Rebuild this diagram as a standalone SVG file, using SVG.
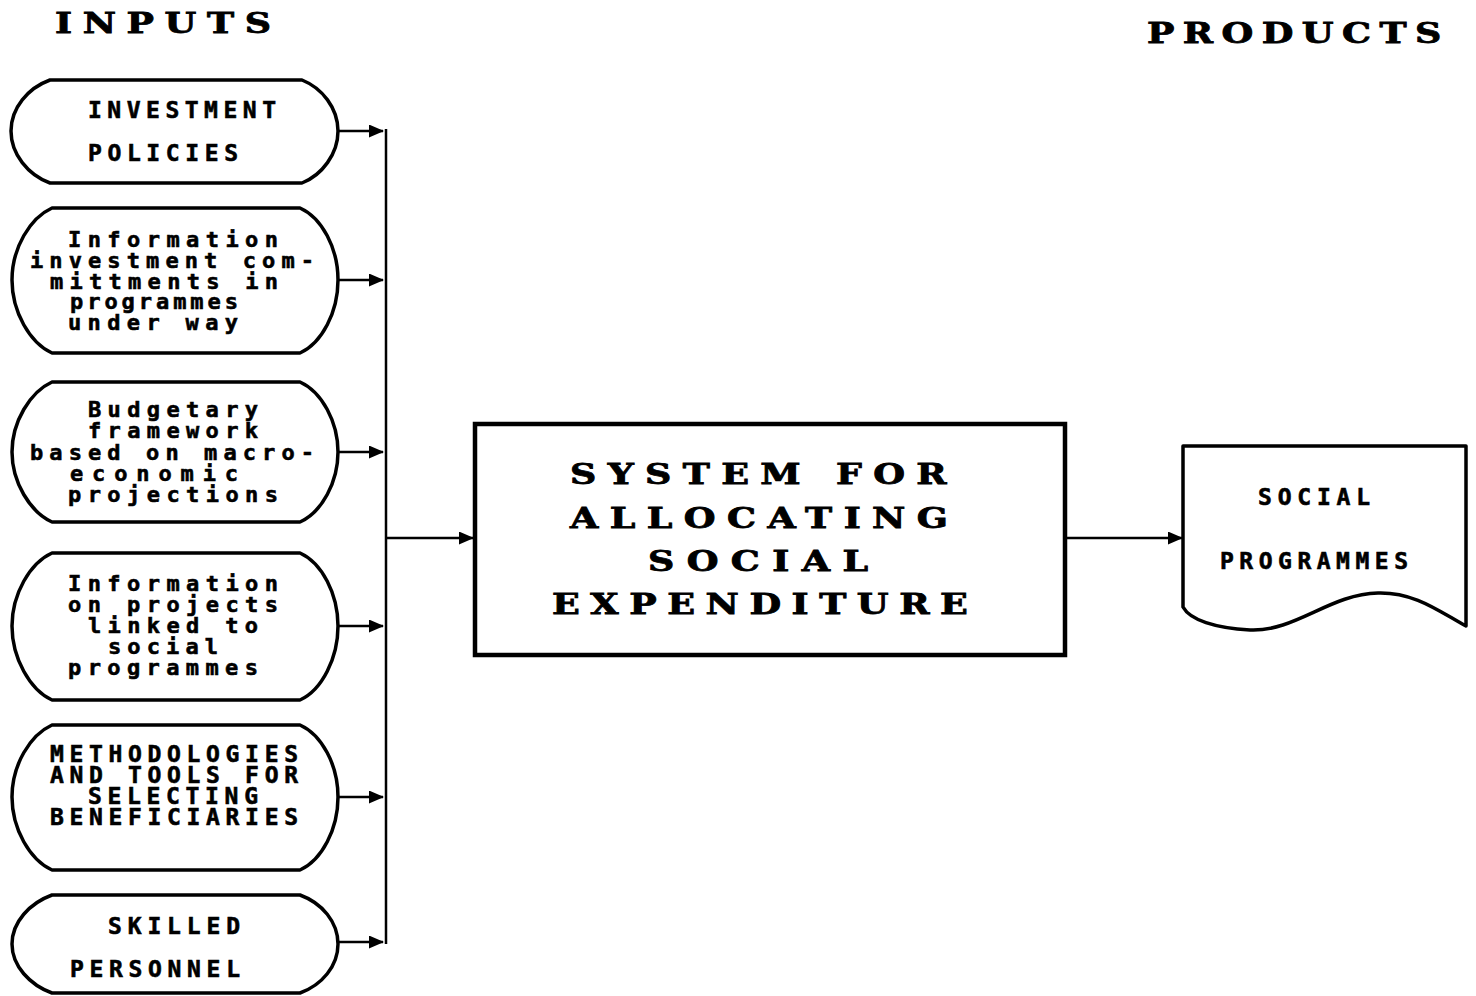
<svg xmlns="http://www.w3.org/2000/svg" width="1476" height="996" viewBox="0 0 1476 996">
  <style>
    .shape { fill: #fff; stroke: #000; stroke-width: 3.5; stroke-linejoin: round; }
    .box { fill: #fff; stroke: #000; stroke-width: 4.5; }
    .wire { fill: none; stroke: #000; stroke-width: 2.5; }
    .head { font-family: "DejaVu Serif", "Liberation Serif", serif; font-weight: bold; font-size: 27px; fill: #000; stroke: #000; stroke-width: 0.8; }
    .t { font-family: "DejaVu Sans Mono", "Liberation Mono", monospace; font-weight: bold; font-size: 22px; fill: #000; stroke: #000; stroke-width: 0.6; }
    .u { font-family: "DejaVu Sans Mono", "Liberation Mono", monospace; font-weight: bold; font-size: 23px; fill: #000; stroke: #000; stroke-width: 0.6; }
  </style>
  <defs>
    <marker id="arrow" viewBox="0 0 15 13" refX="14" refY="6.5" markerWidth="15" markerHeight="13" markerUnits="userSpaceOnUse" orient="auto">
      <path d="M0,0 L15,6.5 L0,13 Z" fill="#000"/>
    </marker>
  </defs>
  <rect width="1476" height="996" fill="#fff"/>

  <!-- column headings (wide display lettering) -->
  <text class="head" x="0" y="0" transform="translate(55,33) scale(1.35,1)" textLength="160" lengthAdjust="spacing">INPUTS</text>
  <text class="head" x="0" y="0" transform="translate(1147,43) scale(1.35,1)" textLength="218" lengthAdjust="spacing">PRODUCTS</text>

  <!-- input nodes -->
  <g id="n-investment-policies">
    <path class="shape" d="M50,80 H302 C322,88 338,108 338,131 C338,154 322,175 302,183 H50 C28,175 11,154 11,131 C11,108 28,88 50,80 Z"/>
    <text class="u" x="88" y="118" textLength="188" lengthAdjust="spacing">INVESTMENT</text>
    <text class="u" x="88" y="161" textLength="150" lengthAdjust="spacing">POLICIES</text>
  </g>

  <g id="n-commitments">
    <path class="shape" d="M52,208 H300 C322,218 338,248 338,280 C338,312 322,343 300,353 H52 C30,343 12,312 12,280 C12,248 30,218 52,208 Z"/>
    <text class="t" x="68" y="247" textLength="210" lengthAdjust="spacing">Information</text>
    <text class="t" x="30" y="268" textLength="284" lengthAdjust="spacing">investment com-</text>
    <text class="t" x="50" y="289" textLength="228" lengthAdjust="spacing">mittments in</text>
    <text class="t" x="70" y="309" textLength="168" lengthAdjust="spacing">programmes</text>
    <text class="t" x="68" y="330" textLength="170" lengthAdjust="spacing">under way</text>
  </g>

  <g id="n-budgetary">
    <path class="shape" d="M52,382 H300 C322,392 338,422 338,452 C338,482 322,512 300,522 H52 C30,512 12,482 12,452 C12,422 30,392 52,382 Z"/>
    <text class="t" x="88" y="417" textLength="170" lengthAdjust="spacing">Budgetary</text>
    <text class="t" x="88" y="438" textLength="170" lengthAdjust="spacing">framework</text>
    <text class="t" x="30" y="460" textLength="284" lengthAdjust="spacing">based on macro-</text>
    <text class="t" x="70" y="481" textLength="168" lengthAdjust="spacing">economic</text>
    <text class="t" x="68" y="502" textLength="210" lengthAdjust="spacing">projections</text>
  </g>

  <g id="n-projects">
    <path class="shape" d="M52,553 H300 C322,563 338,594 338,626 C338,658 322,690 300,700 H52 C30,690 12,658 12,626 C12,594 30,563 52,553 Z"/>
    <text class="t" x="68" y="591" textLength="210" lengthAdjust="spacing">Information</text>
    <text class="t" x="68" y="612" textLength="210" lengthAdjust="spacing">on projects</text>
    <text class="t" x="88" y="633" textLength="170" lengthAdjust="spacing">linked to</text>
    <text class="t" x="108" y="654" textLength="110" lengthAdjust="spacing">social</text>
    <text class="t" x="68" y="675" textLength="190" lengthAdjust="spacing">programmes</text>
  </g>

  <g id="n-methodologies">
    <path class="shape" d="M52,725 H300 C322,735 338,765 338,797 C338,829 322,860 300,870 H52 C30,860 12,829 12,797 C12,765 30,735 52,725 Z"/>
    <text class="u" x="50" y="762" textLength="248" lengthAdjust="spacing">METHODOLOGIES</text>
    <text class="u" x="50" y="783" textLength="248" lengthAdjust="spacing">AND TOOLS FOR</text>
    <text class="u" x="88" y="804" textLength="170" lengthAdjust="spacing">SELECTING</text>
    <text class="u" x="50" y="825" textLength="248" lengthAdjust="spacing">BENEFICIARIES</text>
  </g>

  <g id="n-skilled-personnel">
    <path class="shape" d="M52,895 H300 C322,903 338,922 338,944 C338,966 322,985 300,993 H52 C30,985 12,966 12,944 C12,922 30,903 52,895 Z"/>
    <text class="u" x="108" y="934" textLength="132" lengthAdjust="spacing">SKILLED</text>
    <text class="u" x="70" y="977" textLength="170" lengthAdjust="spacing">PERSONNEL</text>
  </g>

  <!-- central process -->
  <g id="n-system">
    <rect class="box" x="475" y="424" width="590" height="231"/>
    <text class="head" x="0" y="0" transform="translate(570,484) scale(1.35,1)" textLength="279" lengthAdjust="spacing">SYSTEM FOR</text>
    <text class="head" x="0" y="0" transform="translate(570,528) scale(1.35,1)" textLength="280" lengthAdjust="spacing">ALLOCATING</text>
    <text class="head" x="0" y="0" transform="translate(648,571) scale(1.35,1)" textLength="163" lengthAdjust="spacing">SOCIAL</text>
    <text class="head" x="0" y="0" transform="translate(552,614) scale(1.35,1)" textLength="308" lengthAdjust="spacing">EXPENDITURE</text>
  </g>

  <!-- output document -->
  <g id="n-social-programmes">
    <path class="shape" d="M1183,446 H1466 V626 C1440,612 1415,592 1378,593 C1330,594 1295,632 1250,630 C1215,628 1190,620 1183,607 Z"/>
    <text class="u" x="1258" y="505" textLength="112" lengthAdjust="spacing">SOCIAL</text>
    <text class="u" x="1220" y="569" textLength="188" lengthAdjust="spacing">PROGRAMMES</text>
  </g>

  <!-- connectors -->
  <g id="connectors">
    <path class="wire" d="M338,131 H383" marker-end="url(#arrow)"/>
    <path class="wire" d="M338,280 H383" marker-end="url(#arrow)"/>
    <path class="wire" d="M338,452 H383" marker-end="url(#arrow)"/>
    <path class="wire" d="M338,626 H383" marker-end="url(#arrow)"/>
    <path class="wire" d="M338,797 H383" marker-end="url(#arrow)"/>
    <path class="wire" d="M338,942 H383" marker-end="url(#arrow)"/>
    <path class="wire" d="M386,129 V944"/>
    <path class="wire" d="M386,538 H473" marker-end="url(#arrow)"/>
    <path class="wire" d="M1066,538 H1182" marker-end="url(#arrow)"/>
  </g>
</svg>
